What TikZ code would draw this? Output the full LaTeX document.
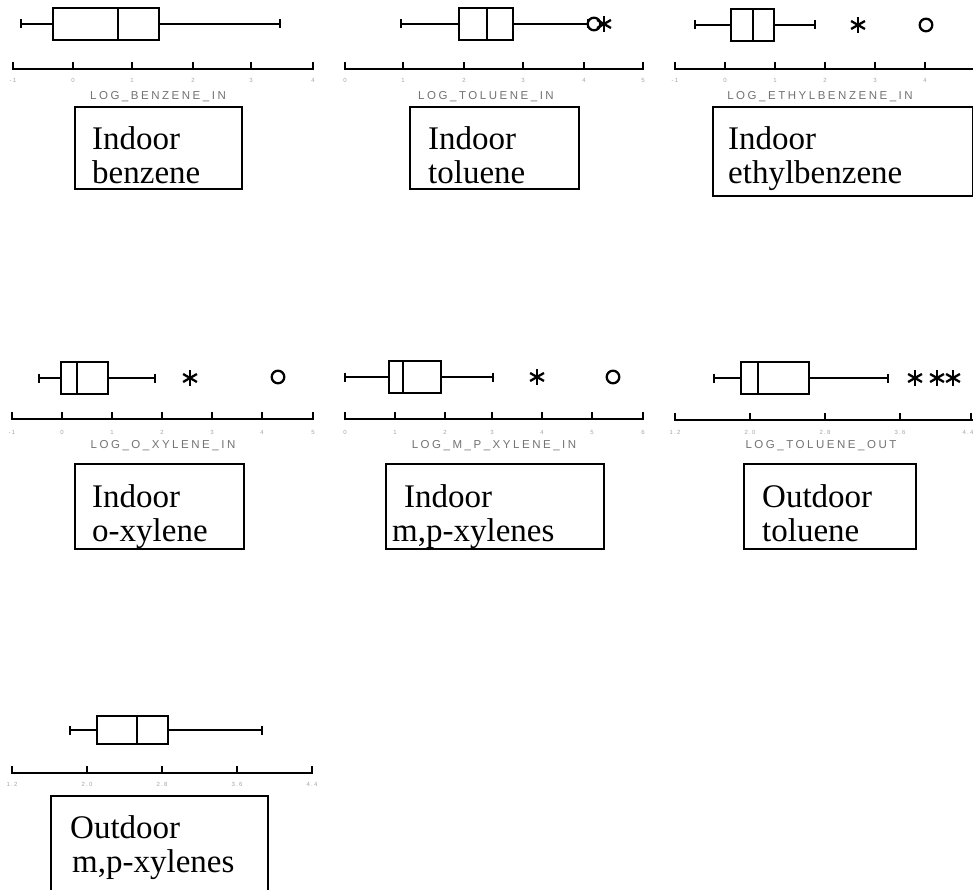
\documentclass[tikz,border=0pt]{standalone}
\usepackage{fontspec}
\setmainfont{Liberation Serif}
\newfontfamily\axfont{Liberation Sans}[LetterSpace=22]
\tikzset{
  bxline/.style={line width=2.2pt, line cap=rect},
  whline/.style={line width=1.9pt},
  axline/.style={line width=2.8pt},
  tickline/.style={line width=2.3pt},
  capline/.style={line width=2.6pt},
  outl/.style={line width=2.3pt},
  lblbox/.style={draw, line width=1.8pt, inner sep=0pt, anchor=north west},
  lbltext/.style={anchor=base west, inner sep=0pt, font=\fontsize{33}{33}\selectfont},
  axtitle/.style={inner sep=0pt, text=black!55, font=\axfont\fontsize{11.5}{12}\selectfont},
  ticklbl/.style={inner sep=0pt, text=black!35, font=\axfont\fontsize{6}{6}\selectfont},
}
% #1 y, #2 whisker left, #3 q1, #4 median, #5 q3, #6 whisker right, #7 half box height
\newcommand\bxp[7]{%
  \draw[whline] (#2,#1) -- (#3,#1);
  \draw[whline] (#5,#1) -- (#6,#1);
  \draw[bxline] (#3,#1-#7) rectangle (#5,#1+#7);
  \draw[bxline] (#4,#1-#7) -- (#4,#1+#7);
  \draw[capline] (#2,#1-4.5) -- (#2,#1+4.5);
  \draw[capline] (#6,#1-4.5) -- (#6,#1+4.5);
}
\newcommand\astk[2]{%
  \draw[outl] (#1,#2-8) -- (#1,#2+8);
  \draw[outl] ($(#1,#2)+(30:8)$) -- ($(#1,#2)+(210:8)$);
  \draw[outl] ($(#1,#2)+(150:8)$) -- ($(#1,#2)+(330:8)$);
}
\newcommand\circo[2]{\draw[outl] (#1,#2) circle (6.3);}
% #1 y, #2 x0, #3 x1, #4 tick list
\newcommand\axs[4]{%
  \draw[axline] (#2,#1) -- (#3,#1);
  \foreach \tx in {#4} {\draw[tickline] (\tx,#1+1) -- (\tx,#1-7);}
}
\usetikzlibrary{calc}
\begin{document}
\begin{tikzpicture}[x=1pt,y=-1pt]
\useasboundingbox[fill=white] (0,0) rectangle (973,890);

% ---------- Panel 1: indoor benzene ----------
\bxp{24}{21}{53}{118}{159}{280}{16}
\axs{69}{13}{313}{13,73,132,193,251,313}
\foreach \tx/\tl in {13/-1,73/0,132/1,193/2,251/3,313/4} \node[ticklbl] at (\tx,80) {\tl};
\node[axtitle] (t1) at (158,97) {LOG\_BENZENE\_IN};
\node[lblbox, minimum width=167, minimum height=82] (b1) at (74,106) {};
\node[lbltext] (l1a) at (92,150) {Indoor};
\node[lbltext] (l1b) at (92,184) {benzene};

% ---------- Panel 2: indoor toluene ----------
\bxp{24}{401}{459}{487}{513}{588}{16}
\circo{594}{24}
\astk{604}{24}
\axs{69}{345}{643}{345,403,464,523,584,643}
\foreach \tx/\tl in {345/0,403/1,464/2,523/3,584/4,643/5} \node[ticklbl] at (\tx,80) {\tl};
\node[axtitle] (t2) at (486,97) {LOG\_TOLUENE\_IN};
\node[lblbox, minimum width=169, minimum height=82] (b2) at (409,106) {};
\node[lbltext] (l2a) at (428,150) {Indoor};
\node[lbltext] (l2b) at (428,184) {toluene};

% ---------- Panel 3: indoor ethylbenzene ----------
\bxp{25}{695}{731}{753}{774}{815}{16}
\astk{858}{25}
\circo{926}{25}
\axs{69}{675}{973}{675,725,775,825,875,925}
\foreach \tx/\tl in {675/-1,725/0,775/1,825/2,875/3,925/4} \node[ticklbl] at (\tx,80) {\tl};
\node[axtitle] (t3) at (820,97) {LOG\_ETHYLBENZENE\_IN};
\node[lblbox, minimum width=260, minimum height=89] (b3) at (712,106) {};
\node[lbltext] (l3a) at (728,150) {Indoor};
\node[lbltext] (l3b) at (728,184) {ethylbenzene};

% ---------- Panel 4: indoor o-xylene ----------
\bxp{378}{39}{61}{77}{108}{155}{16}
\astk{190}{378}
\circo{278}{377}
\axs{419}{12}{313}{12,62,112,162,212,262,313}
\foreach \tx/\tl in {12/-1,62/0,112/1,162/2,212/3,262/4,313/5} \node[ticklbl] at (\tx,432) {\tl};
\node[axtitle] (t4) at (163,446) {LOG\_O\_XYLENE\_IN};
\node[lblbox, minimum width=169, minimum height=85] (b4) at (74,463) {};
\node[lbltext] (l4a) at (92,507) {Indoor};
\node[lbltext] (l4b) at (92,541) {o-xylene};

% ---------- Panel 5: indoor m,p-xylenes ----------
\bxp{377}{345}{389}{403}{441}{493}{16}
\astk{537}{377}
\circo{613}{377}
\axs{419}{345}{643}{345,395,445,492,542,592,643}
\foreach \tx/\tl in {345/0,395/1,445/2,492/3,542/4,592/5,643/6} \node[ticklbl] at (\tx,432) {\tl};
\node[axtitle] (t5) at (494,446) {LOG\_M\_P\_XYLENE\_IN};
\node[lblbox, minimum width=218, minimum height=85] (b5) at (385,463) {};
\node[lbltext] (l5a) at (404,507) {Indoor};
\node[lbltext] (l5b) at (392,541) {m,p-xylenes};

% ---------- Panel 6: outdoor toluene ----------
\bxp{378}{714}{741}{758}{809}{888}{16}
\astk{915}{378}
\astk{937}{378}
\astk{953}{378}
\axs{420}{675}{973}{675,750,825,900,971}
\foreach \tx/\tl in {675/1.2,750/2.0,825/2.8,900/3.6,968/4.4} \node[ticklbl] at (\tx,432) {\tl};
\node[axtitle] (t6) at (821,446) {LOG\_TOLUENE\_OUT};
\node[lblbox, minimum width=172, minimum height=85] (b6) at (743,463) {};
\node[lbltext] (l6a) at (762,507) {Outdoor};
\node[lbltext] (l6b) at (762,541) {toluene};

% ---------- Panel 7: outdoor m,p-xylenes ----------
\bxp{730}{70}{97}{137}{168}{262}{14}
\axs{773}{12}{313}{12,87,162,237,312}
\foreach \tx/\tl in {12/1.2,87/2.0,162/2.8,237/3.6,312/4.4} \node[ticklbl] at (\tx,784) {\tl};
\node[lblbox, minimum width=217, minimum height=100] (b7) at (50,795) {};
\node[lbltext] (l7a) at (70,838) {Outdoor};
\node[lbltext] (l7b) at (72,872) {m,p-xylenes};
\end{tikzpicture}
\end{document}
